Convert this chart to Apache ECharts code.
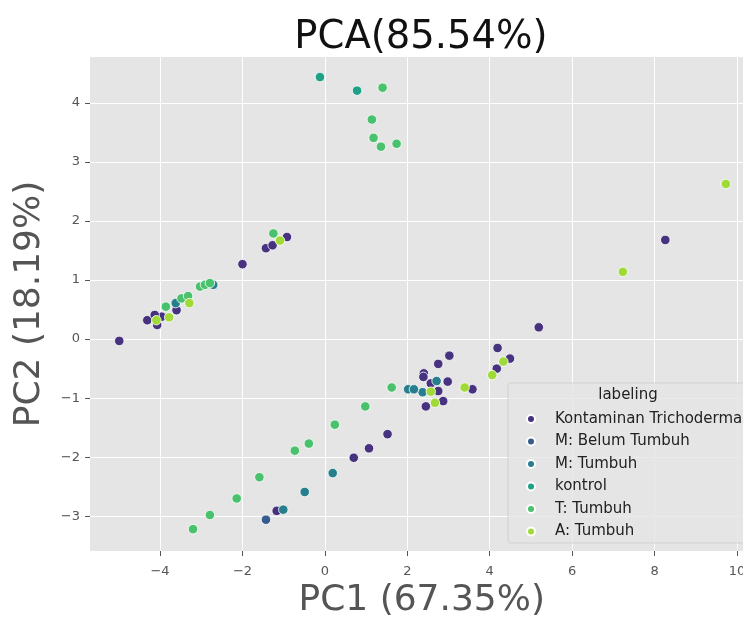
<!DOCTYPE html>
<html>
<head>
<meta charset="utf-8">
<script src="https://cdn.jsdelivr.net/npm/echarts@6/dist/echarts.min.js"></script>
<style>
  html, body { margin: 0; padding: 0; background: #fff; }
  #chart { width: 743px; height: 617px; }
</style>
</head>
<body>
<div id="chart"></div>
<script>
// categories + colours (seaborn viridis, 6 levels)
var labels = ['Kontaminan Trichoderma', 'M: Belum Tumbuh', 'M: Tumbuh', 'kontrol', 'T: Tumbuh', 'A: Tumbuh'];
var colors = ['#46327e', '#365c8d', '#277f8e', '#1fa187', '#4ac16d', '#a0da39'];

// PC1, PC2 per group
var kontaminanPts = [
    [-4.99, -0.03], [-4.31, 0.32], [-4.07, 0.24], [-3.96, 0.38], [-4.13, 0.41], [-3.60, 0.49],
    [-2.00, 1.27], [-1.43, 1.54], [-1.27, 1.59], [-0.92, 1.73], [8.26, 1.68], [5.19, 0.20],
    [4.19, -0.15], [4.49, -0.33], [4.17, -0.50], [3.02, -0.28], [2.75, -0.42], [2.40, -0.58],
    [2.39, -0.64], [2.57, -0.75], [2.98, -0.72], [2.75, -0.88], [2.87, -1.05], [2.45, -1.14],
    [3.58, -0.85], [1.52, -1.61], [1.07, -1.85], [0.70, -2.01], [-1.17, -2.91]
];
var mBelumPts = [[-1.43, -3.06]];
var mTumbuhPts = [
    [-3.62, 0.61], [-2.71, 0.92], [2.71, -0.71], [2.37, -0.90], [2.02, -0.85], [2.16, -0.85],
    [0.19, -2.27], [-0.49, -2.59], [-1.01, -2.89]
];
var kontrolPts = [[-0.12, 4.44], [0.78, 4.21]];
var tTumbuhPts = [
    [1.40, 4.26], [1.14, 3.72], [1.18, 3.41], [1.36, 3.26], [1.74, 3.31], [-1.25, 1.79],
    [-3.86, 0.55], [-3.48, 0.69], [-3.32, 0.73], [-3.03, 0.89], [-2.91, 0.92], [-2.79, 0.95],
    [1.62, -0.82], [0.98, -1.14], [0.24, -1.45], [-0.39, -1.77], [-0.73, -1.89], [-1.59, -2.34],
    [-2.14, -2.70], [-2.79, -2.98], [-3.20, -3.22]
];
var aTumbuhPts = [
    [9.73, 2.63], [7.23, 1.14], [4.33, -0.38], [4.06, -0.61], [3.39, -0.82], [2.57, -0.89],
    [2.67, -1.08], [-4.09, 0.32], [-3.78, 0.37], [-3.29, 0.61], [-1.09, 1.67]
];
var groups = [kontaminanPts, mBelumPts, mTumbuhPts, kontrolPts, tTumbuhPts, aTumbuhPts];

// tick labels
var xTicks = [-4, -2, 0, 2, 4, 6, 8, 10];
var yTicks = [-3, -2, -1, 0, 1, 2, 3, 4];

var font = 'DejaVu Sans';

var seriesData = [];
for (var i = 0; i < labels.length; i++) {
    seriesData.push({
        name: labels[i],
        type: 'scatter',
        data: groups[i],
        symbolSize: 9.5,
        itemStyle: {
            color: colors[i],
            opacity: 1,
            borderColor: '#ffffff',
            borderWidth: 0.8
        },
        emphasis: { disabled: true }
    });
}

var minusSign = function (v) { return String(v).replace('-', '\u2212'); };

var myChart = echarts.init(document.getElementById('chart'), null, { renderer: 'canvas' });

var option = {
    animation: false,
    backgroundColor: '#ffffff',
    color: colors,
    title: {
        text: 'PCA(85.54%)',
        left: 416,
        textAlign: 'center',
        top: 13,
        textStyle: { fontFamily: font, fontSize: 38.5, fontWeight: 'normal', color: '#111' }
    },
    grid: {
        left: 90,
        top: 57,
        right: -10.5,
        bottom: 66,
        outerBoundsMode: 'none',
        containLabel: false,
        show: true,
        backgroundColor: '#E5E5E5',
        borderWidth: 0
    },
    legend: {
        orient: 'vertical',
        left: 508,
        top: 383,
        padding: [28.5, 20, 4, 18],
        backgroundColor: 'rgba(229,229,229,0.8)',
        borderColor: 'rgba(204,204,204,0.8)',
        borderWidth: 1,
        borderRadius: 3,
        icon: 'circle',
        itemWidth: 8,
        itemHeight: 8,
        itemGap: 7.5,
        data: labels,
        textStyle: { fontFamily: font, fontSize: 15, lineHeight: 15, color: '#222', padding: [0, 0, 0, 15] }
    },
    graphic: [{
        type: 'text',
        z: 100,
        style: {
            x: 628, y: 395,
            text: 'labeling',
            align: 'center',
            verticalAlign: 'middle',
            font: '15px "DejaVu Sans"',
            fill: '#222'
        }
    }],
    xAxis: {
        type: 'value',
        min: -5.7,
        max: 10.4,
        splitNumber: 8,
        name: 'PC1 (67.35%)',
        nameLocation: 'middle',
        nameGap: 32,
        nameTextStyle: { fontFamily: font, fontSize: 36, color: '#555555' },
        axisLine: { show: false, onZero: false },
        axisTick: {
            show: true, length: 5, inside: false,
            customValues: xTicks,
            lineStyle: { color: '#555555', width: 1 }
        },
        axisLabel: {
            customValues: xTicks,
            margin: 14,
            fontFamily: font, fontSize: 13, color: '#555555',
            formatter: minusSign
        },
        splitLine: { show: true, lineStyle: { color: '#ffffff', width: 1 } }
    },
    yAxis: {
        type: 'value',
        min: -3.59,
        max: 4.78,
        splitNumber: 8,
        name: 'PC2 (18.19%)',
        nameLocation: 'middle',
        nameGap: 42,
        nameTextStyle: { fontFamily: font, fontSize: 36, color: '#555555' },
        axisLine: { show: false, onZero: false },
        axisTick: {
            show: true, length: 5, inside: false,
            customValues: yTicks,
            lineStyle: { color: '#555555', width: 1 }
        },
        axisLabel: {
            customValues: yTicks,
            margin: 10,
            fontFamily: font, fontSize: 13, color: '#555555',
            formatter: minusSign
        },
        splitLine: { show: true, lineStyle: { color: '#ffffff', width: 1 } }
    },
    series: seriesData
};

myChart.setOption(option);
</script>
</body>
</html>
